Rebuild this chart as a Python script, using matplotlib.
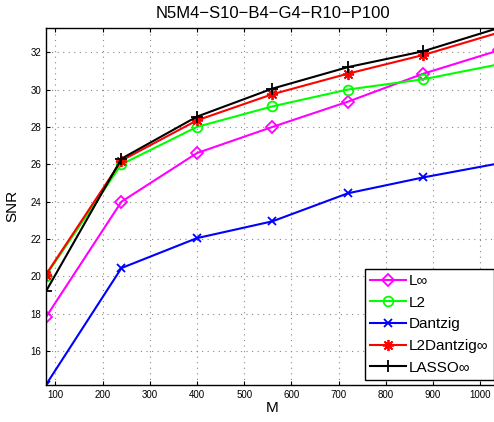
import numpy as np
import matplotlib
matplotlib.use('Agg')
import matplotlib.pyplot as plt

plt.rcParams['font.family'] = ['Liberation Sans', 'DejaVu Sans']

M = [80, 240, 400, 560, 720, 880, 1040]
snr_linf = [17.82, 24.0, 26.6, 28.0, 29.35, 30.85, 32.1]
snr_l2 = [20.05, 26.0, 28.0, 29.1, 30.0, 30.55, 31.35]
snr_dantzig = [14.2, 20.45, 22.05, 22.95, 24.45, 25.3, 26.05]
snr_l2dantzig = [20.1, 26.2, 28.35, 29.75, 30.85, 31.85, 33.05]
snr_lasso = [19.2, 26.3, 28.55, 30.05, 31.2, 32.05, 33.3]

series = [
    ('L∞', snr_linf, 'D', '#ff00ff', 6),
    ('L2', snr_l2, 'o', '#00ff00', 7),
    ('Dantzig', snr_dantzig, 'x', '#0000ff', 6),
    ('L2Dantzig∞', snr_l2dantzig, (8, 2, 0), '#ff0000', 8),
    ('LASSO∞', snr_lasso, '+', '#000000', 9),
]

fig = plt.figure(figsize=(4.94, 4.22), dpi=100)
ax = fig.add_axes([0.093, 0.088, 0.917, 0.846])

for name, vals, mk, col, ms in series:
    ax.plot(M, vals, marker=mk, color=col, linewidth=1.5, markersize=ms,
            markerfacecolor='none', markeredgecolor=col, markeredgewidth=1.3,
            label=name)

ax.set_xlim(80, 1040)
ax.set_ylim(14.2, 33.3)
ax.set_xticks(np.arange(100, 1001, 100))
ax.set_yticks(np.arange(16, 33, 2))
ax.tick_params(direction='in', labelsize=7, length=3, top=True, right=True)
ax.grid(True, linestyle=(0, (1, 4)), color='#888888', linewidth=0.8)
ax.set_axisbelow(True)
for s in ax.spines.values():
    s.set_linewidth(1.0)

ax.set_title('N5M4\u2212S10\u2212B4\u2212G4\u2212R10\u2212P100', fontsize=12, pad=7)
ax.set_xlabel('M', fontsize=11, labelpad=1)
ax.set_ylabel('SNR', fontsize=11, labelpad=8)

leg = ax.legend(loc='lower right', bbox_to_anchor=(0.995, 0.005), fontsize=11,
                fancybox=False, framealpha=1, edgecolor='black',
                handlelength=2.3, handletextpad=0.2, borderpad=0.35,
                labelspacing=0.5, borderaxespad=0.2)
leg.get_frame().set_linewidth(1.0)

fig.savefig('out.png', dpi=100)
